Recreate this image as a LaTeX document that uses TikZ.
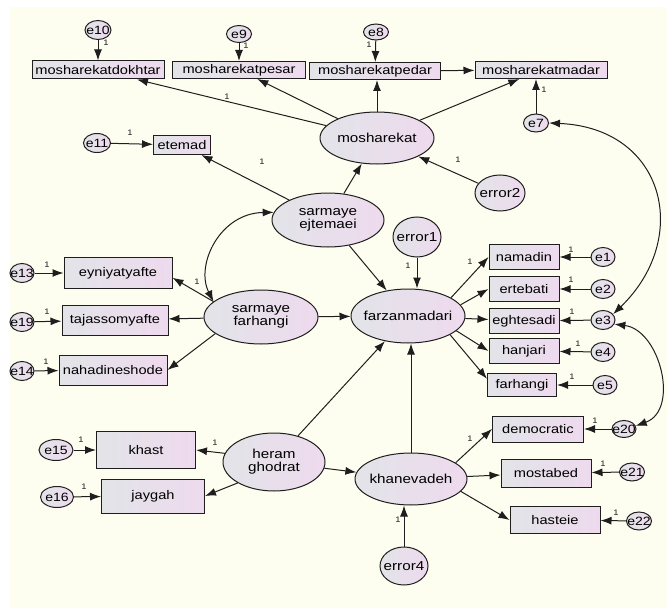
\documentclass[tikz,border=0pt]{standalone}
\usepackage{fontspec}
\setmainfont{Liberation Sans}[FakeStretch=1.17]
\usetikzlibrary{shapes.geometric,arrows.meta}
\definecolor{cream}{RGB}{254,254,240}
\definecolor{fillL}{RGB}{226,228,232}
\definecolor{fillR}{RGB}{238,218,238}
\definecolor{edgec}{RGB}{30,30,30}
\begin{document}
\begin{tikzpicture}[x=1pt,y=-1pt,
  every node/.style={inner sep=0pt, text=black},
  bx/.style={draw=edgec, line width=1pt, rectangle, left color=fillL, right color=fillR, font=\fontsize{12.5}{13}\selectfont},
  lat/.style={draw=edgec, line width=1pt, ellipse, left color=fillL, right color=fillR},
  lt/.style={font=\fontsize{13}{13}\selectfont, align=center},
  et/.style={font=\fontsize{12}{12}\selectfont},
  arr/.style={draw=edgec, line width=1pt, -{Latex[length=11pt,width=8pt]}},
  dbl/.style={draw=edgec, line width=1pt, {Latex[length=11pt,width=8pt]}-{Latex[length=11pt,width=8pt]}},
  one/.style={font=\fontsize{8}{8}\selectfont, text=edgec}
]
\useasboundingbox (0,0) rectangle (667,610);
\fill[white] (0,0) rectangle (667,610);
\fill[cream] (10,7) rectangle (667,608);

% boxes
\node[bx, minimum width=132pt, minimum height=18pt] (dokh) at (98,70) {mosharekatdokhtar};
\node[bx, minimum width=133pt, minimum height=17pt] (pes) at (239,70) {mosharekatpesar};
\node[bx, minimum width=131pt, minimum height=17pt] (ped) at (375,71) {mosharekatpedar};
\node[bx, minimum width=132pt, minimum height=17pt] (mad) at (541,70) {mosharekatmadar};
\node[bx, minimum width=57pt, minimum height=19pt] (etm) at (182,145) {etemad};
\node[bx, minimum width=108pt, minimum height=31pt] (eyn) at (118,273) {eyniyatyafte};
\node[bx, minimum width=106pt, minimum height=30pt] (taj) at (115,320) {tajassomyafte};
\node[bx, minimum width=108pt, minimum height=30pt] (nah) at (113,370) {nahadineshode};
\node[bx, minimum width=70pt, minimum height=25pt] (nam) at (524,257) {namadin};
\node[bx, minimum width=70pt, minimum height=25pt] (ert) at (524,289) {ertebati};
\node[bx, minimum width=70pt, minimum height=25pt] (egh) at (524,321) {eghtesadi};
\node[bx, minimum width=70pt, minimum height=25pt] (han) at (524,351) {hanjari};
\node[bx, minimum width=69pt, minimum height=23pt] (far) at (522,385) {farhangi};
\node[bx, minimum width=91pt, minimum height=26pt] (dem) at (538,429) {democratic};
\node[bx, minimum width=90pt, minimum height=28pt] (mos) at (546,473) {mostabed};
\node[bx, minimum width=90pt, minimum height=27pt] (has) at (555,520) {hasteie};
\node[bx, minimum width=99pt, minimum height=37pt] (kha) at (146,450) {khast};
\node[bx, minimum width=103pt, minimum height=34pt] (jay) at (153,496) {jaygah};

% latent ellipses
\node[lat, minimum width=114pt, minimum height=52pt, label={[lt]center:mosharekat}] (msh) at (377,138) {};
\node[lat, minimum width=112pt, minimum height=54pt, label={[lt]center:{sarmaye\\ejtemaei}}] (sej) at (328,220) {};
\node[lat, minimum width=114pt, minimum height=54pt, label={[lt]center:farzanmadari}] (fz) at (408,316) {};
\node[lat, minimum width=114pt, minimum height=54pt, label={[lt]center:{sarmaye\\farhangi}}] (sfh) at (261,317) {};
\node[lat, minimum width=102pt, minimum height=58pt, label={[lt]center:{heram\\ghodrat}}] (hg) at (274,462) {};
\node[lat, minimum width=112pt, minimum height=52pt, label={[lt]center:khanevadeh}] (kh) at (411,479) {};
\node[lat, minimum width=48pt, minimum height=40pt, label={[lt]center:error1}] (err1) at (417,237) {};
\node[lat, minimum width=50pt, minimum height=36pt, label={[lt]center:error2}] (err2) at (500,193) {};
\node[lat, minimum width=48pt, minimum height=38pt, label={[lt]center:error4}] (err4) at (404,566) {};

% error circles
\node[lat, minimum width=26pt, minimum height=19pt, label={[et]center:e10}] (e10) at (98,30) {};
\node[lat, minimum width=25pt, minimum height=17pt, label={[et]center:e9}] (e9) at (239,34) {};
\node[lat, minimum width=25pt, minimum height=16pt, label={[et]center:e8}] (e8) at (376,32) {};
\node[lat, minimum width=25pt, minimum height=18pt, label={[et]center:e7}] (e7) at (536,123) {};
\node[lat, minimum width=27pt, minimum height=19pt, label={[et]center:e11}] (e11) at (97,143) {};
\node[lat, minimum width=24pt, minimum height=19pt, label={[et]center:e13}] (e13) at (22,273) {};
\node[lat, minimum width=24pt, minimum height=19pt, label={[et]center:e19}] (e19) at (22,322) {};
\node[lat, minimum width=24pt, minimum height=19pt, label={[et]center:e14}] (e14) at (22,371) {};
\node[lat, minimum width=24pt, minimum height=19pt, label={[et]center:e1}] (e1) at (603,257) {};
\node[lat, minimum width=24pt, minimum height=19pt, label={[et]center:e2}] (e2) at (603,289) {};
\node[lat, minimum width=24pt, minimum height=19pt, label={[et]center:e3}] (e3) at (603,320) {};
\node[lat, minimum width=24pt, minimum height=19pt, label={[et]center:e4}] (e4) at (603,352) {};
\node[lat, minimum width=24pt, minimum height=19pt, label={[et]center:e5}] (e5) at (605,385) {};
\node[lat, minimum width=24pt, minimum height=17pt, label={[et]center:e20}] (e20) at (624,429) {};
\node[lat, minimum width=25pt, minimum height=18pt, label={[et]center:e21}] (e21) at (632,472) {};
\node[lat, minimum width=25pt, minimum height=18pt, label={[et]center:e22}] (e22) at (639,521) {};
\node[lat, minimum width=34pt, minimum height=21pt, label={[et]center:e15}] (e15) at (56,450) {};
\node[lat, minimum width=33pt, minimum height=21pt, label={[et]center:e16}] (e16) at (57,497) {};

% connectors
\draw[arr] (e10) -- (dokh);
\draw[arr] (e9) -- (pes);
\draw[arr] (e8) -- (ped);
\draw[arr] (e7) -- (e7 |- mad.south);
\draw[arr] (ped) -- (mad);
\draw[arr] (msh) -- (dokh);
\draw[arr] (msh) -- (pes);
\draw[arr] (msh.north) -- (msh.north |- ped.south);
\draw[arr] (msh) -- (mad);
\draw[arr] (err2) -- (msh);
\draw[arr] (e11) -- (etm);
\draw[arr] (sej) -- (etm);
\draw[arr] (sej) -- (msh);
\draw[arr] (sej) -- (fz);
\draw[dbl] (sfh.162) .. controls (195,265) and (220,213) .. (sej.172);
\draw[arr] (sfh.162) -- (eyn.-5);
\draw[arr] (sfh) -- (taj);
\draw[arr] (sfh.200) -- (nah.east);
\draw[arr] (e13) -- (eyn);
\draw[arr] (e19) -- (taj);
\draw[arr] (e14) -- (nah);
\draw[arr] (sfh) -- (fz);
\draw[arr] (err1) -- (err1 |- fz.north);
\draw[arr] (fz.23) -- (nam.west);
\draw[arr] (fz.12) -- (ert.west);
\draw[arr] (fz) -- (egh);
\draw[arr] (fz.-17) -- (han.west);
\draw[arr] (fz.-24) -- (far.170);
\draw[arr] (e1) -- (nam);
\draw[arr] (e2) -- (ert);
\draw[arr] (e3) -- (egh);
\draw[arr] (e4) -- (han);
\draw[arr] (e5) -- (far);
\draw[arr] (hg) -- (fz);
\draw[arr] (hg.170) -- (kha.east);
\draw[arr] (hg.210) -- (jay.east);
\draw[arr] (hg) -- (kh);
\draw[arr] (kh.north) -- (kh.north |- fz.south);
\draw[arr] (kh.20) -- (dem.west);
\draw[arr] (kh) -- (mos);
\draw[arr] (kh.-14) -- (has.west);
\draw[arr] (err4) -- (err4 |- kh.south);
\draw[arr] (e20) -- (dem);
\draw[arr] (e21) -- (mos);
\draw[arr] (e22) -- (has);
\draw[arr] (e15) -- (kha);
\draw[arr] (e16) -- (jay);
\draw[dbl] (e7.east) .. controls (665,128) and (692,238) .. (e3.30);
\draw[dbl] (e3.-20) .. controls (660,330) and (680,410) .. (e20.15);

% weight labels
\node[one] (l1) at (106,43) {1};
\node[one] (l2) at (246,46) {1};
\node[one] (l3) at (369,45) {1};
\node[one] (l4) at (544,90) {1};
\node[one] (l5) at (227,97) {1};
\node[one] (l6) at (458,160) {1};
\node[one] (l7) at (130,133) {1};
\node[one] (l8) at (262,162) {1};
\node[one] (l9) at (47,265) {1};
\node[one] (l10) at (197,282) {1};
\node[one] (l11) at (47,312) {1};
\node[one] (l12) at (46,362) {1};
\node[one] (l13) at (408,266) {1};
\node[one] (l14) at (470,262) {1};
\node[one] (l15) at (571,250) {1};
\node[one] (l16) at (571,280) {1};
\node[one] (l17) at (572,312) {1};
\node[one] (l18) at (578,344) {1};
\node[one] (l19) at (572,377) {1};
\node[one] (l20) at (470,439) {1};
\node[one] (l21) at (595,421) {1};
\node[one] (l22) at (603,464) {1};
\node[one] (l23) at (616,513) {1};
\node[one] (l24) at (398,520) {1};
\node[one] (l25) at (81,440) {1};
\node[one] (l26) at (84,487) {1};
\node[one] (l27) at (215,443) {1};
\end{tikzpicture}
\end{document}
